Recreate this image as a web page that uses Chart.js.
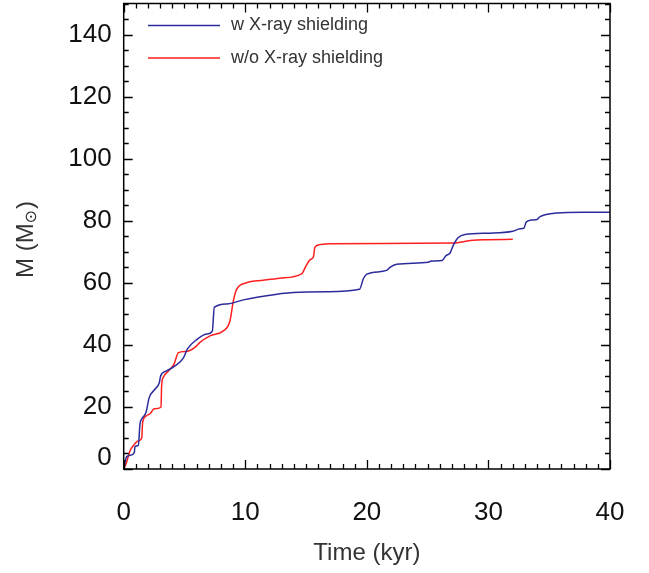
<!DOCTYPE html>
<html>
<head>
<meta charset="utf-8">
<script src="https://cdn.jsdelivr.net/npm/chart.js@4"></script>
<style>
  html, body { margin: 0; padding: 0; background: #fff; }
  #wrap { width: 649px; height: 573px; }
</style>
</head>
<body>
<div id="wrap"><canvas id="massChart"></canvas></div>
<script>
// values
const blueTime = [0, 0.25, 0.52, 0.87, 0.93, 1.2, 1.34, 1.48, 1.83, 2.1, 2.57, 2.93, 3.04, 3.53, 4.22, 4.9, 5.23, 6.0, 6.82, 7.29, 7.45, 8.47, 9.84, 11.2, 13.96, 16.7, 19.4, 19.71, 20.0, 21.63, 21.9, 22.45, 25.05, 25.3, 26.2, 26.5, 26.84, 27.1, 27.5, 28.07, 30.1, 32.0, 32.6, 32.92, 33.1, 33.5, 34.0, 34.2, 34.65, 35.6, 37.8, 40];
const blueMass = [0, 4.0, 4.4, 5.3, 7.3, 7.6, 14.5, 16.1, 18.2, 23.0, 25.7, 27.8, 30.0, 31.6, 33.2, 35.7, 38.6, 41.7, 43.5, 44.4, 52.1, 53.2, 54.5, 55.5, 56.9, 57.1, 57.9, 61.3, 62.8, 64.0, 65.0, 66.0, 66.6, 67.0, 67.2, 68.7, 69.6, 72.0, 74.5, 75.6, 76.0, 76.6, 77.4, 77.6, 79.5, 80.2, 80.4, 81.2, 81.9, 82.5, 82.7, 82.7];

const redTime = [0, 0.19, 0.52, 0.79, 1.2, 1.48, 1.56, 1.89, 2.16, 2.52, 3.07, 3.12, 3.26, 3.68, 4.14, 4.5, 5.18, 5.86, 6.27, 7.1, 8.19, 8.74, 9.02, 9.29, 10.11, 11.48, 12.85, 14.63, 15.04, 15.32, 15.6, 15.73, 16.14, 16.96, 27.1, 28.5, 29.6, 32.0];
const redMass = [0, 1.6, 5.9, 7.5, 9.1, 9.9, 15.0, 17.2, 17.8, 19.4, 19.9, 26.9, 29.6, 31.6, 33.8, 37.5, 37.9, 39.2, 40.8, 42.9, 44.5, 47.7, 54.2, 57.9, 60.0, 60.8, 61.5, 62.9, 65.8, 67.4, 68.3, 71.5, 72.3, 72.6, 72.8, 73.6, 73.9, 74.0];

const seriesNames = ['w X-ray shielding', 'w/o X-ray shielding'];
const seriesColors = ['#2b2b9c', '#ff1f1f'];

const xTitle = 'Time (kyr)';
const xMax = 40, yMax = 150;

const FONT = '"Liberation Sans", Arial, Helvetica, sans-serif';

function toPoints(xs, ys) {
    return xs.map((x, i) => ({ x: x, y: ys[i] }));
}

// frame, inward ticks on all four sides, axis titles and legend
const framePlugin = {
    id: 'frame',
    afterDraw(chart) {
        const ctx = chart.ctx;
        const a = chart.chartArea;
        const xs = chart.scales.x, ys = chart.scales.y;
        ctx.save();
        ctx.strokeStyle = '#000';
        ctx.lineWidth = 1.5;
        ctx.strokeRect(a.left, a.top, a.right - a.left, a.bottom - a.top);

        ctx.lineWidth = 1.3;
        ctx.beginPath();
        for (let v = 0; v <= xMax; v += 1) {
            const px = Math.round(xs.getPixelForValue(v)) + 0.5;
            const len = (v % 10 === 0) ? 9 : 5;
            ctx.moveTo(px, a.bottom); ctx.lineTo(px, a.bottom - len);
            ctx.moveTo(px, a.top); ctx.lineTo(px, a.top + len);
        }
        for (let v = 0; v <= yMax; v += 5) {
            const py = Math.round(ys.getPixelForValue(v)) + 0.5;
            const len = (v % 20 === 0) ? 9 : 5;
            ctx.moveTo(a.left, py); ctx.lineTo(a.left + len, py);
            ctx.moveTo(a.right, py); ctx.lineTo(a.right - len, py);
        }
        ctx.stroke();

        // the 0 label on the y axis sits a bit higher in the original
        ctx.fillStyle = '#111';
        ctx.font = '26px ' + FONT;
        ctx.textAlign = 'right';
        ctx.textBaseline = 'middle';
        ctx.fillText('0', a.left - 12, ys.getPixelForValue(0) - 11);

        // x title
        ctx.fillStyle = '#333';
        ctx.font = '24px ' + FONT;
        ctx.textAlign = 'center';
        ctx.textBaseline = 'middle';
        ctx.fillText(xTitle, (a.left + a.right) / 2, 553);

        // y title: M (M☉) with subscript sun symbol
        ctx.translate(26, 240);
        ctx.rotate(-Math.PI / 2);
        ctx.textAlign = 'left';
        ctx.textBaseline = 'middle';
        ctx.font = '24px ' + FONT;
        const p1 = 'M (M', p3 = ')';
        const w1 = ctx.measureText(p1).width;
        ctx.font = '16px "DejaVu Sans", sans-serif';
        const w2 = ctx.measureText('\u2299').width;
        ctx.font = '24px ' + FONT;
        const w3 = ctx.measureText(p3).width;
        let x0 = -(w1 + w2 + w3) / 2;
        ctx.fillText(p1, x0, 0);
        ctx.font = '16px "DejaVu Sans", sans-serif';
        ctx.fillText('\u2299', x0 + w1, 6);
        ctx.font = '24px ' + FONT;
        ctx.fillText(p3, x0 + w1 + w2 + 1, 0);
        ctx.restore();

        // legend
        ctx.save();
        ctx.font = '18px ' + FONT;
        ctx.textAlign = 'left';
        ctx.textBaseline = 'middle';
        chart.data.datasets.forEach((ds, i) => {
            const y = 25.5 + i * 32.5;
            ctx.strokeStyle = ds.borderColor;
            ctx.lineWidth = 1.5;
            ctx.beginPath();
            ctx.moveTo(148, y); ctx.lineTo(220, y);
            ctx.stroke();
            ctx.fillStyle = '#333';
            ctx.fillText(ds.label, 231, y);
        });
        ctx.restore();
    }
};

new Chart(document.getElementById('massChart'), {
    type: 'line',
    data: {
        datasets: [
            { label: seriesNames[0], data: toPoints(blueTime, blueMass), borderColor: seriesColors[0] },
            { label: seriesNames[1], data: toPoints(redTime, redMass), borderColor: seriesColors[1] }
        ]
    },
    options: {
        responsive: true,
        maintainAspectRatio: false,
        animation: false,
        layout: { padding: { top: 3.5, right: 39, left: 0, bottom: 0 } },
        elements: {
            line: { borderWidth: 1.5, cubicInterpolationMode: 'monotone', fill: false },
            point: { radius: 0 }
        },
        plugins: { legend: { display: false }, tooltip: { enabled: false } },
        scales: {
            x: {
                type: 'linear', min: 0, max: xMax,
                grid: { display: false, drawTicks: false },
                border: { display: false },
                ticks: { stepSize: 10, color: '#111', padding: 28, font: { family: FONT, size: 26 } },
                afterFit(s) {
                    s.height = 573 - 469;
                    s.paddingLeft = 0; s.paddingRight = 0;
                }
            },
            y: {
                type: 'linear', min: 0, max: yMax,
                grid: { display: false, drawTicks: false },
                border: { display: false },
                ticks: {
                    stepSize: 20, includeBounds: false, color: '#111', padding: 12,
                    font: { family: FONT, size: 26 },
                    callback: v => (v === 0 ? '' : v)
                },
                afterFit(s) {
                    s.width = 123.7;
                    s.paddingTop = 0; s.paddingBottom = 0;
                }
            }
        }
    },
    plugins: [framePlugin]
});
</script>
</body>
</html>
